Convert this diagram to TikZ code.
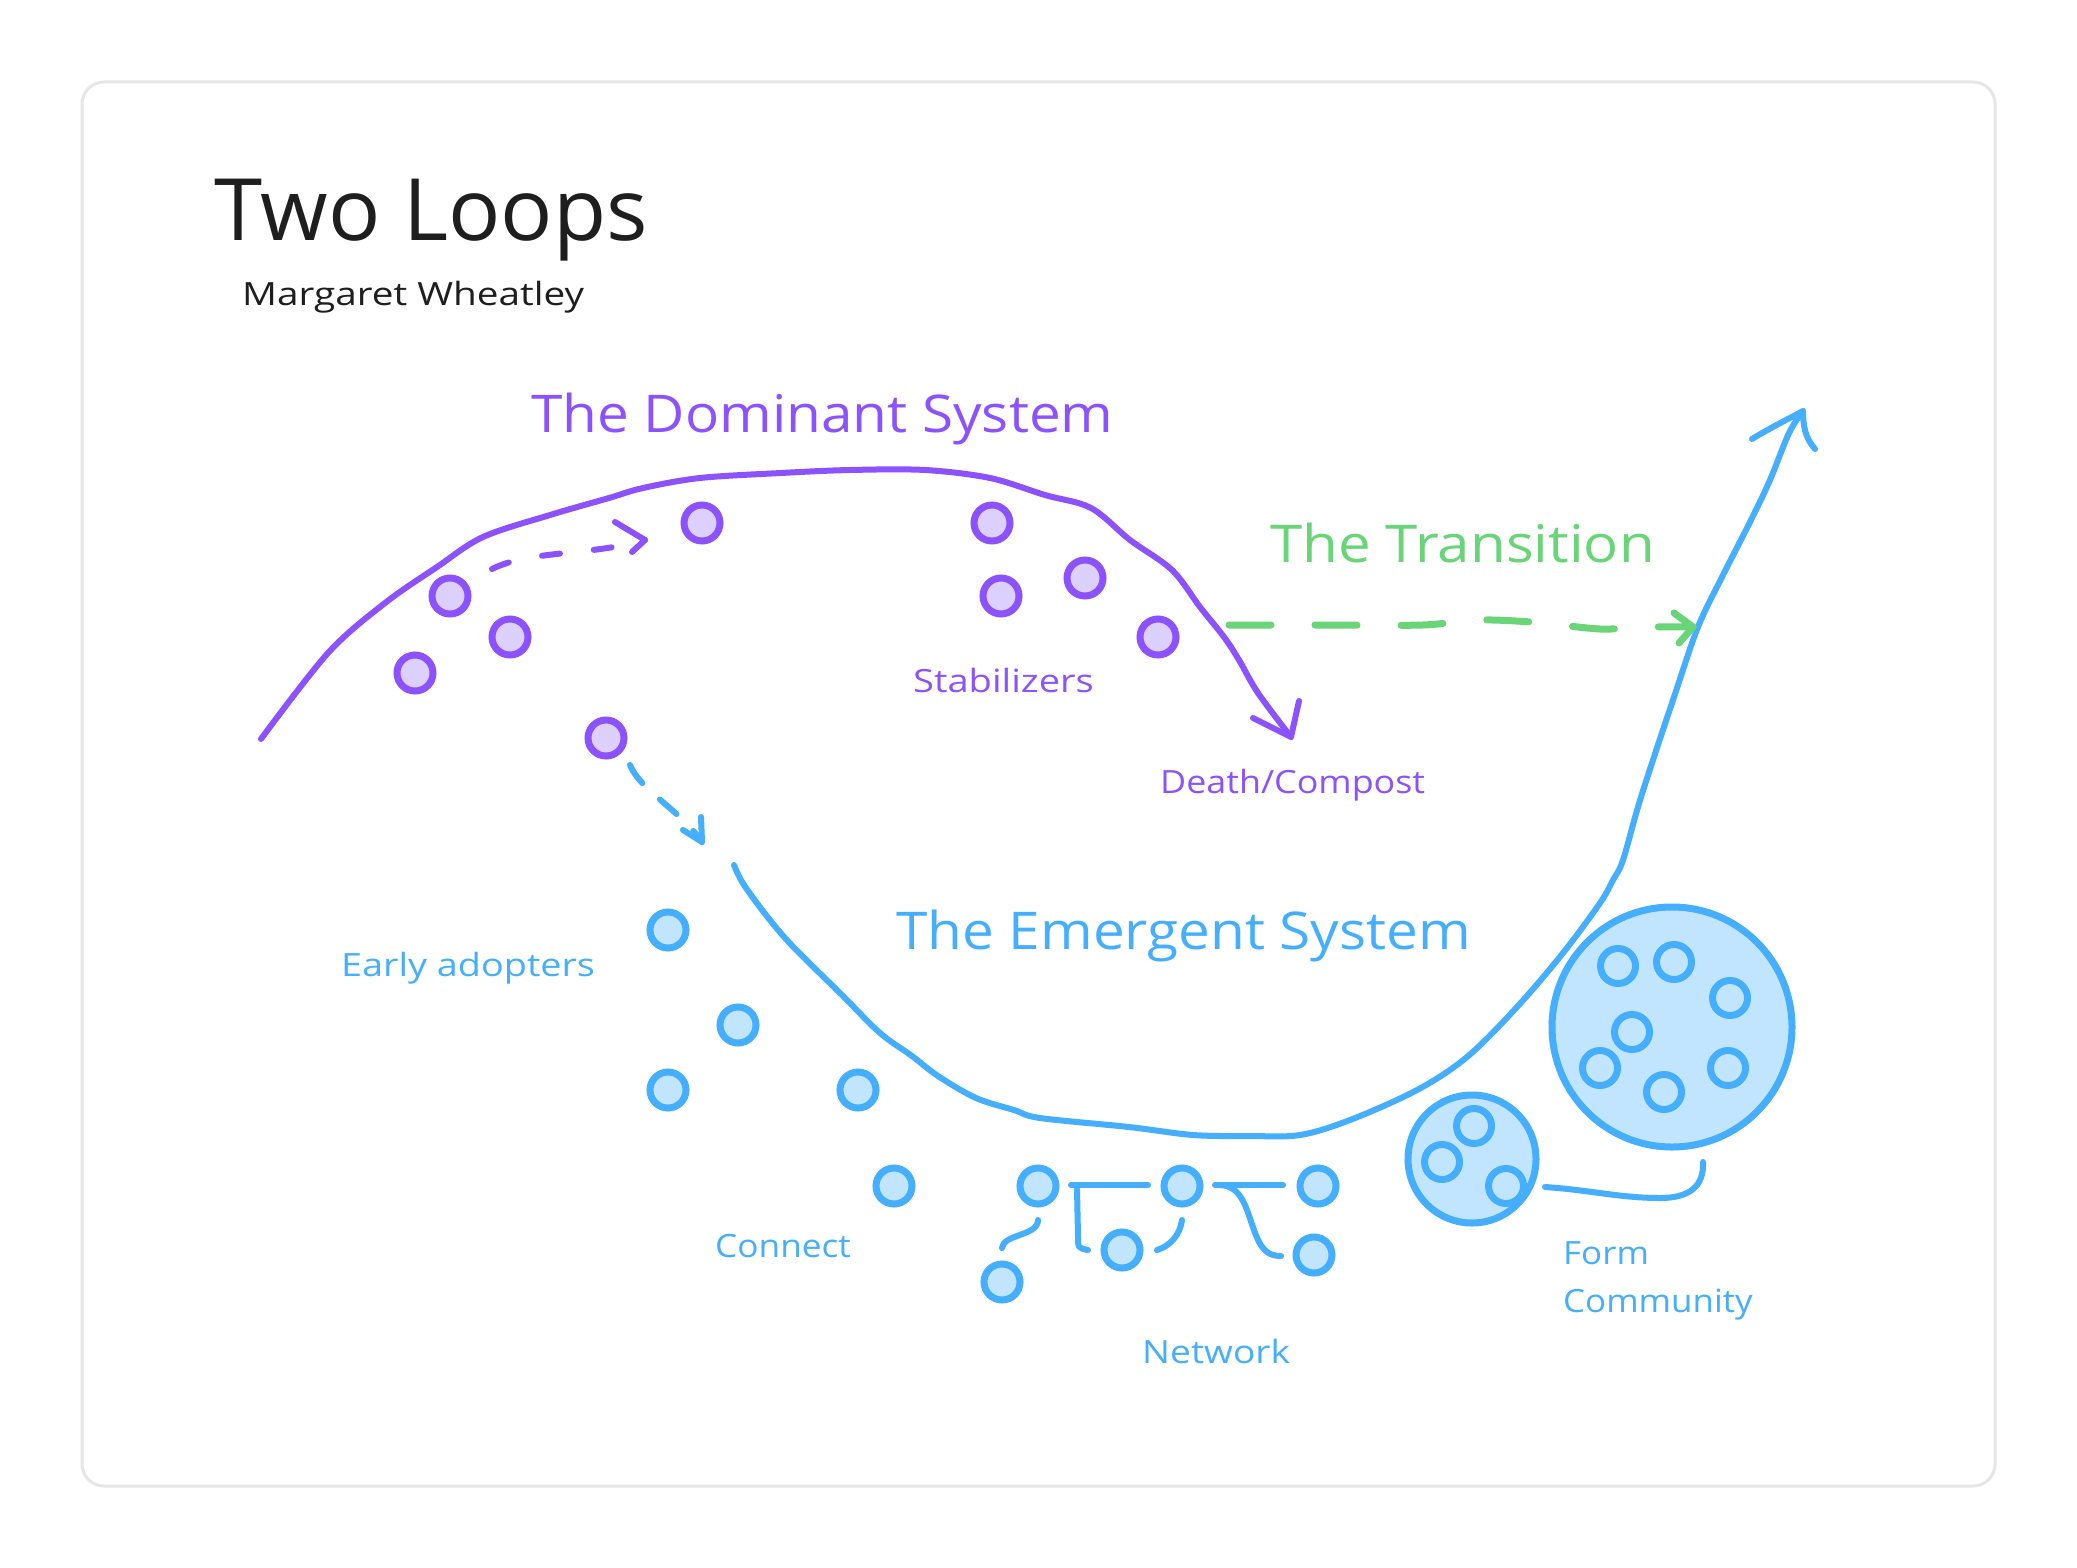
\documentclass[tikz,border=0pt]{standalone}
\usepackage{fontspec}
\setmainfont{Open Sans}
\definecolor{vio}{HTML}{8C52FF}
\definecolor{lvio}{HTML}{DCD0FF}
\definecolor{sky}{HTML}{45AEFF}
\definecolor{lsky}{HTML}{C2E5FF}
\definecolor{grn}{HTML}{69D578}
\definecolor{ink}{HTML}{1E1E1E}
\definecolor{framec}{HTML}{E6E6E6}
\newcommand{\sxw}[2]{\scalebox{#1}[1]{#2}}
\begin{document}
\begin{tikzpicture}[x=1pt,y=-1pt,
  pdot/.style={circle,draw=vio,fill=lvio,line width=7pt,minimum size=36pt,inner sep=0pt},
  bdot/.style={circle,draw=sky,fill=lsky,line width=7pt,minimum size=36pt,inner sep=0pt},
  ring/.style={circle,draw=sky,fill=lsky,line width=7pt,minimum size=35pt,inner sep=0pt},
  pen/.style={line width=6pt,line cap=round,line join=round},
  lbl/.style={anchor=base west,inner sep=0pt},
  big/.style={lbl,font=\fontsize{52}{60}\selectfont},
  small/.style={lbl,font=\fontsize{32}{38}\selectfont},
]
\useasboundingbox (0,0) rectangle (2077,1568);
\fill[white] (0,0) rectangle (2077,1568);
\draw[framec,line width=3pt,rounded corners=22pt] (82,82) rectangle (1995,1486);

% titles
\node[lbl,text=ink,font=\fontsize{86}{96}\selectfont] (title) at (214,240) {\sxw{1.01}{Two Loops}};
\node[small,text=ink] (sub) at (242,305) {\sxw{1.21}{Margaret Wheatley}};

\node[big,text=vio] (dom) at (531,432) {\sxw{1.09}{The Dominant System}};
\node[big,text=grn] (trans) at (1270,562) {\sxw{1.12}{The Transition}};
\node[big,text=sky] (emer) at (896,949) {\sxw{1.09}{The Emergent System}};

\node[small,text=vio] (stab) at (913,692) {\sxw{1.19}{Stabilizers}};
\node[small,text=vio] (death) at (1160,793) {\sxw{1.12}{Death/Compost}};
\node[small,text=sky] (early) at (341,976) {\sxw{1.18}{Early adopters}};
\node[small,text=sky] (conn) at (715,1257) {\sxw{1.10}{Connect}};
\node[small,text=sky] (netw) at (1142,1363) {\sxw{1.16}{Network}};
\node[small,text=sky] (form) at (1563,1264) {\sxw{1.09}{Form}};
\node[small,text=sky] (comm) at (1563,1312) {\sxw{1.09}{Community}};

% dominant curve
\draw[pen,vio] plot[smooth,tension=0.55] coordinates {(261,739) (328,653) (385,603) (437,567) (483,537) (550,515) (609,498) (643,488) (700,478) (781,473) (850,470) (925,470) (990,478) (1045,495) (1091,508) (1130,540) (1172,570) (1200,607) (1224,637) (1239,660) (1258,693) (1291,737)};
\coordinate (dtip) at (1291,737);
\draw[pen,vio] (1253,718) -- (dtip) -- (1299,701);

% emergent curve
\draw[pen,sky] plot[smooth,tension=0.55] coordinates {(734,865) (746,888) (785,938) (842,995) (880,1033) (912,1056) (938,1076) (976,1098) (1014,1110) (1040,1118) (1129,1127) (1193,1135) (1250,1136) (1300,1135) (1350,1120) (1417,1090) (1467,1057) (1517,1007) (1563,953) (1600,903) (1613,880) (1623,860) (1641,797) (1674,697) (1698,627) (1722,577) (1751,520) (1770,480) (1789,433) (1803,411)};
\coordinate (etip) at (1803,411);
\draw[pen,sky] (1752,439) .. controls (1770,428) and (1790,418) .. (etip) .. controls (1803,425) and (1805,438) .. (1815,449);

% transition
\coordinate (tstart) at (1229,625);
\coordinate (ttip) at (1693,627);
\draw[pen,grn,line width=7pt,dash pattern=on 42pt off 44pt] plot[smooth,tension=0.5] coordinates {(tstart) (1330,625) (1423,625) (1478,620) (1531,622) (1600,629) (1640,627) (ttip)};
\draw[pen,grn,line width=7pt] (1674,613) -- (ttip) -- (1679,643);

% purple dots
\node[pdot] (p1) at (702,523) {};
\node[pdot] (p2) at (450,596) {};
\node[pdot] (p3) at (510,637) {};
\node[pdot] (p4) at (415,673) {};
\node[pdot] (p5) at (606,738) {};
\node[pdot] (p6) at (992,523) {};
\node[pdot] (p7) at (1001,596) {};
\node[pdot] (p8) at (1085,578) {};
\node[pdot] (p9) at (1158,637) {};

% purple dashed arrow p2 -> p1
\coordinate (pa) at (645,540);
\draw[pen,vio,dash pattern=on 18pt off 34pt] (492,569) .. controls (530,550) and (590,556) .. (pa);
\draw[pen,vio] (615,522) -- (pa) -- (632,552);

% blue dashed arrow p5 -> emergent
\coordinate (ba) at (702,842);
\draw[pen,sky,dash pattern=on 22pt off 24pt] (630,765) .. controls (640,790) and (680,810) .. (ba);
\draw[pen,sky] (683,830) -- (ba) -- (701,817);

% blue dots
\node[bdot] (b1) at (668,930) {};
\node[bdot] (b2) at (738,1025) {};
\node[bdot] (b3) at (668,1090) {};
\node[bdot] (b4) at (858,1090) {};
\node[bdot] (b5) at (894,1186) {};
\node[bdot] (n1) at (1038,1186) {};
\node[bdot] (n2) at (1182,1186) {};
\node[bdot] (n3) at (1318,1186) {};
\node[bdot] (n4) at (1122,1250) {};
\node[bdot] (n5) at (1002,1282) {};
\node[bdot] (n6) at (1314,1255) {};

% network links
\draw[pen,sky] (1071,1185) -- (1148,1185);
\draw[pen,sky] (1077,1189) -- (1078,1236) .. controls (1078,1248) .. (1088,1250);
\draw[pen,sky] (1038,1220) .. controls (1038,1236) and (1003,1234) .. (1002,1248);
\draw[pen,sky] (1182,1220) .. controls (1180,1235) and (1170,1246) .. (1157,1250);
\draw[pen,sky] (1215,1185) -- (1283,1185);
\draw[pen,sky] (1220,1185) .. controls (1242,1186) and (1246,1208) .. (1254,1230) .. controls (1261,1250) and (1268,1256) .. (1281,1256);

% community
\node[circle,draw=sky,fill=lsky,line width=7pt,minimum size=128pt,inner sep=0pt] (c1) at (1472,1159) {};
\node[ring] (c1a) at (1474,1126) {};
\node[ring] (c1b) at (1442,1162) {};
\node[ring] (c1c) at (1506,1186) {};
\node[circle,draw=sky,fill=lsky,line width=7pt,minimum size=240pt,inner sep=0pt] (c2) at (1672,1027) {};
\node[ring] (c2a) at (1618,966) {};
\node[ring] (c2b) at (1674,962) {};
\node[ring] (c2c) at (1730,998) {};
\node[ring] (c2d) at (1632,1032) {};
\node[ring] (c2e) at (1600,1068) {};
\node[ring] (c2f) at (1664,1092) {};
\node[ring] (c2g) at (1728,1068) {};
\draw[pen,sky] (1545,1187) .. controls (1590,1190) and (1620,1198) .. (1660,1198) .. controls (1690,1198) and (1704,1186) .. (1703,1162);
\end{tikzpicture}
\end{document}
